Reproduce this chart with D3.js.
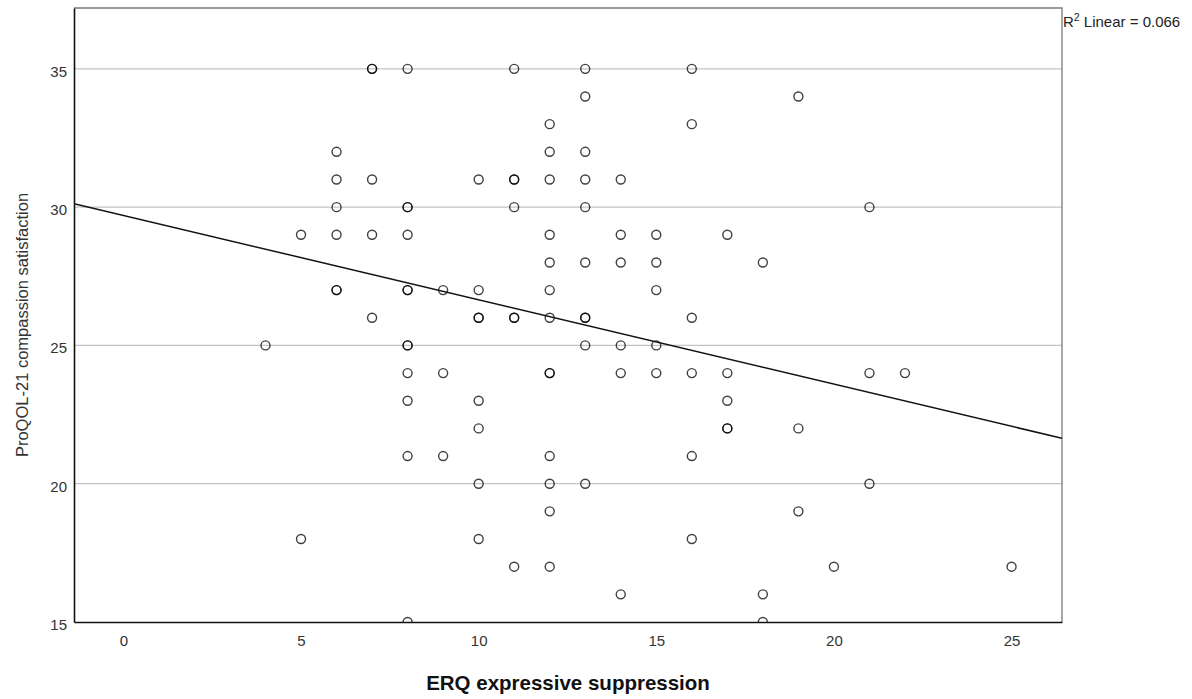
<!DOCTYPE html>
<html>
<head>
<meta charset="utf-8">
<script src="https://cdn.jsdelivr.net/npm/d3@7"></script>
<style>
  body { margin: 0; background: #fff; }
  svg { display: block; font-family: "Liberation Sans", Arial, sans-serif; }
</style>
</head>
<body>
<svg id="chart" width="1192" height="699"></svg>
<script>
// ERQ expressive suppression (x) vs ProQOL-21 compassion satisfaction (y)
const suppression = [
  4,
  5, 5,
  6, 6, 6, 6, 6, 6,
  7, 7, 7, 7, 7,
  8, 8, 8, 8, 8, 8, 8, 8, 8, 8, 8, 8,
  9, 9, 9,
  10, 10, 10, 10, 10, 10, 10, 10,
  11, 11, 11, 11, 11, 11, 11,
  12, 12, 12, 12, 12, 12, 12, 12, 12, 12, 12, 12, 12,
  13, 13, 13, 13, 13, 13, 13, 13, 13, 13,
  14, 14, 14, 14, 14, 14,
  15, 15, 15, 15, 15,
  16, 16, 16, 16, 16, 16,
  17, 17, 17, 17, 17,
  18, 18, 18,
  19, 19, 19,
  20,
  21, 21, 21,
  22,
  25
];
const satisfaction = [
  25,
  29, 18,
  32, 31, 30, 29, 27, 27,
  35, 35, 31, 29, 26,
  35, 30, 30, 29, 27, 27, 25, 25, 24, 23, 21, 15,
  27, 24, 21,
  31, 27, 26, 26, 23, 22, 20, 18,
  35, 31, 31, 30, 26, 26, 17,
  33, 32, 31, 29, 28, 27, 26, 24, 24, 21, 20, 19, 17,
  35, 34, 32, 31, 30, 28, 26, 26, 25, 20,
  31, 29, 28, 25, 24, 16,
  29, 28, 27, 25, 24,
  35, 33, 26, 24, 21, 18,
  29, 24, 23, 22, 22,
  28, 16, 15,
  34, 22, 19,
  17,
  30, 24, 20,
  24,
  17
];

const xTicks = [0, 5, 10, 15, 20, 25];
const yTicks = [15, 20, 25, 30, 35];

// Linear fit line
const fitIntercept = 29.70;
const fitSlope = -0.305;
const rSquared = "0.066";

const svg = d3.select("#chart");
const plot = { left: 74, right: 1062, top: 8, bottom: 622 };

const x = d3.scaleLinear().domain([-1.39, 26.42]).range([plot.left, plot.right]);
const y = d3.scaleLinear().domain([15, 37.2]).range([plot.bottom, plot.top]);

svg.append("defs").append("clipPath").attr("id", "plotClip")
  .append("rect")
  .attr("x", plot.left).attr("y", plot.top)
  .attr("width", plot.right - plot.left).attr("height", plot.bottom - plot.top);

// horizontal gridlines
svg.append("g")
  .selectAll("line")
  .data(yTicks.filter(d => d > 15))
  .join("line")
  .attr("x1", plot.left).attr("x2", plot.right)
  .attr("y1", d => y(d)).attr("y2", d => y(d))
  .attr("stroke", "#c4c4c4").attr("stroke-width", 1.3);

// frame: top and right in grey
svg.append("path")
  .attr("d", `M${plot.left},${plot.top}H${plot.right}V${plot.bottom}`)
  .attr("fill", "none").attr("stroke", "#7a7a7a").attr("stroke-width", 1.3);

// points
svg.append("g").attr("clip-path", "url(#plotClip)")
  .selectAll("circle")
  .data(d3.range(suppression.length))
  .join("circle")
  .attr("cx", i => x(suppression[i]))
  .attr("cy", i => y(satisfaction[i]))
  .attr("r", 4.5)
  .attr("fill", "none")
  .attr("stroke", "#000")
  .attr("stroke-opacity", 0.75)
  .attr("stroke-width", 1.4);

// fit line
const xd = x.domain();
svg.append("line")
  .attr("clip-path", "url(#plotClip)")
  .attr("x1", x(xd[0])).attr("y1", y(fitIntercept + fitSlope * xd[0]))
  .attr("x2", x(xd[1])).attr("y2", y(fitIntercept + fitSlope * xd[1]))
  .attr("stroke", "#111").attr("stroke-width", 1.5);

// axes
const xAxis = svg.append("g")
  .attr("transform", `translate(0,${plot.bottom})`)
  .call(d3.axisBottom(x).tickValues(xTicks).tickSize(0).tickPadding(13));
const yAxis = svg.append("g")
  .attr("transform", `translate(${plot.left},0)`)
  .call(d3.axisLeft(y).tickValues(yTicks).tickSize(0).tickPadding(7));

[xAxis, yAxis].forEach(g => {
  g.select(".domain").attr("stroke", "#111").attr("stroke-width", 1.6);
  g.selectAll("text")
    .attr("font-family", "Liberation Sans, Arial, sans-serif")
    .attr("font-size", 15).attr("fill", "#333");
});
yAxis.selectAll("text").attr("dy", "0.5em");

// axis titles
svg.append("text")
  .attr("x", (plot.left + plot.right) / 2).attr("y", 690)
  .attr("text-anchor", "middle")
  .attr("font-size", 20.5).attr("font-weight", "bold").attr("fill", "#111")
  .text("ERQ expressive suppression");

svg.append("text")
  .attr("transform", `translate(28,325) rotate(-90)`)
  .attr("text-anchor", "middle")
  .attr("font-size", 16.5).attr("fill", "#333")
  .text("ProQOL-21 compassion satisfaction");

// fit label
const lab = svg.append("text")
  .attr("x", plot.right + 1).attr("y", 27)
  .attr("font-size", 15).attr("fill", "#222");
lab.append("tspan").text("R");
lab.append("tspan").attr("font-size", 10.5).attr("dy", -6).text("2");
lab.append("tspan").attr("dy", 6).text(" Linear = " + rSquared);
</script>
</body>
</html>
